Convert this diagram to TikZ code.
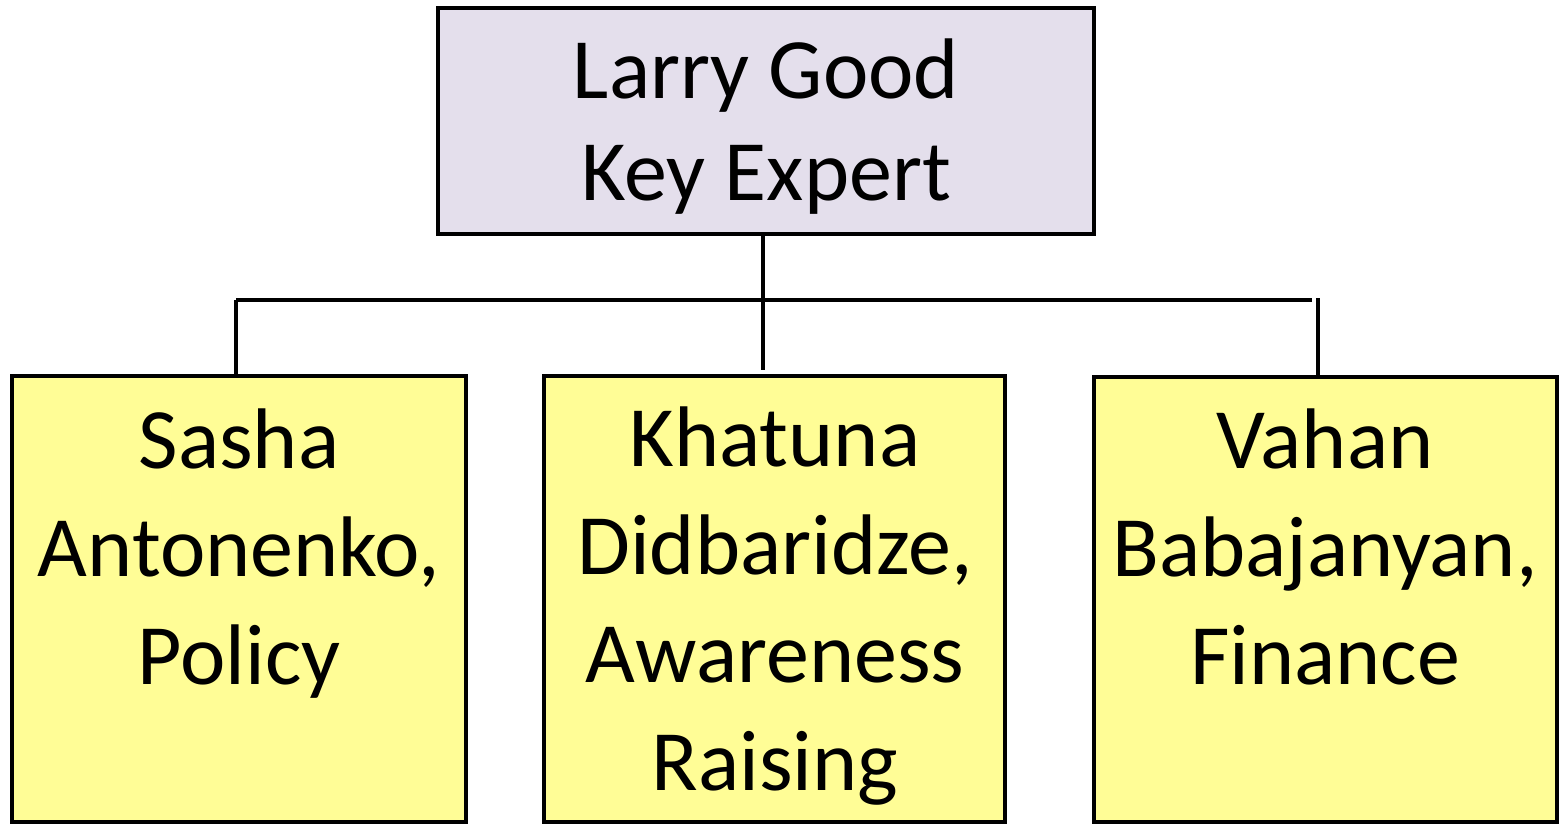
\documentclass[tikz,border=0pt]{standalone}
\usepackage{fontspec}
\setmainfont{Carlito}
\definecolor{topfill}{HTML}{E4DFEC}
\definecolor{botfill}{HTML}{FFFD96}
\begin{document}
\begin{tikzpicture}[x=1pt,y=-1pt,
  box/.style={draw=black,line width=4.5pt,inner sep=0pt,outer sep=0pt,anchor=north west},
  txt/.style={align=center,inner sep=0pt,font=\fontsize{86}{102}\selectfont},
  btxt/.style={align=center,inner sep=0pt,font=\fontsize{86}{108}\selectfont},
  conn/.style={draw=black,line width=4.5pt}]
\useasboundingbox (0,0) rectangle (1565,824);
\node[box,fill=topfill,minimum width=656pt,minimum height=226pt] (top) at (438,8) {};
\node[box,fill=botfill,minimum width=454pt,minimum height=446pt] (left) at (12,376) {};
\node[box,fill=botfill,minimum width=461pt,minimum height=446pt] (mid) at (544,376) {};
\node[box,fill=botfill,minimum width=463pt,minimum height=445pt] (right) at (1094,377) {};
\node[txt,anchor=base] (toptxt) at (766,200) {Larry Good\\Key Expert};
\node[btxt,anchor=base] (lefttxt) at (239,684) {Sasha\\Antonenko,\\Policy};
\node[btxt,anchor=base] (midtxt) at (775,790) {Khatuna\\Didbaridze,\\Awareness\\Raising};
\node[btxt,anchor=base] (righttxt) at (1325,684) {Vahan\\Babajanyan,\\Finance};
\coordinate (hl) at (236,300);
\coordinate (hr) at (1312,300);
\coordinate (j) at (763,300);
\coordinate (hr2) at (1318,298);
\draw[conn] (hl) -- (hr);
\draw[conn] (top.south -| j) -- ([yshift=6pt]mid.north -| j);
\draw[conn] (hl) -- (hl |- left.north);
\draw[conn] (hr2) -- (hr2 |- right.north);
\end{tikzpicture}
\end{document}
